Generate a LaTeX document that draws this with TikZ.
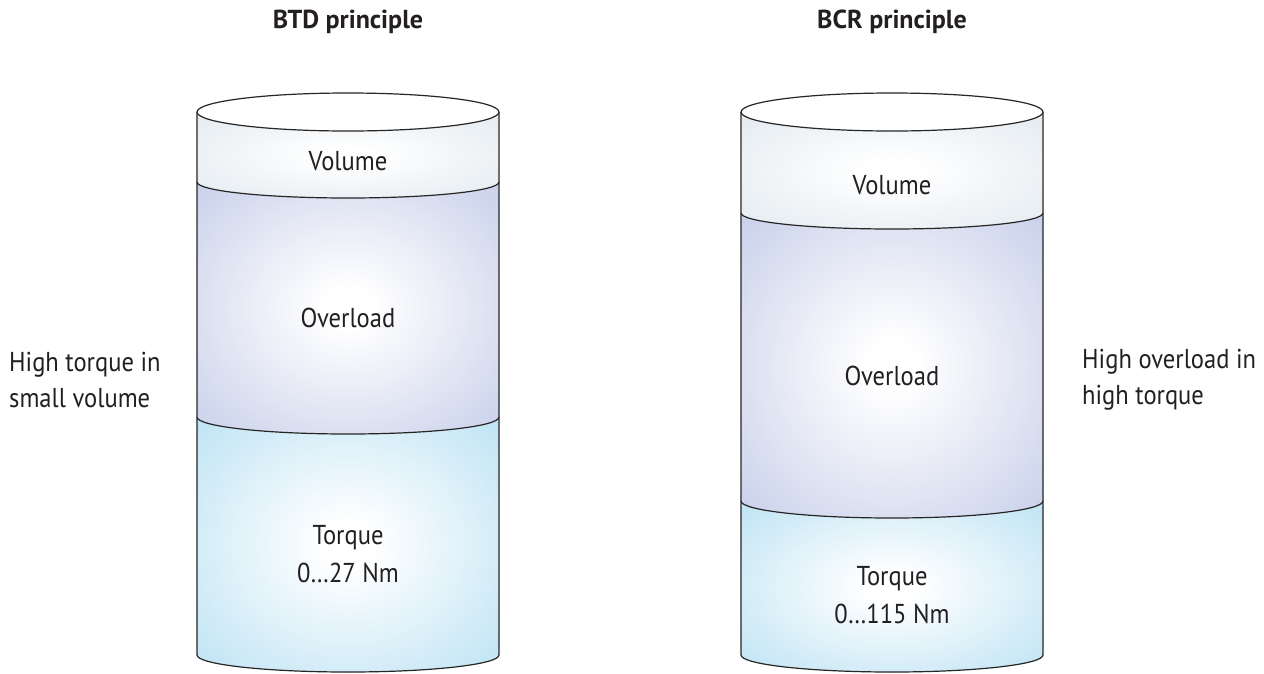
\documentclass[tikz,border=0pt]{standalone}
\usepackage{fontspec}
\setmainfont[FakeStretch=0.9]{PT Sans}
\newfontfamily\titlefont{PT Sans}
\definecolor{txt}{HTML}{231F20}
\definecolor{volc}{HTML}{D8E2EA}
\definecolor{ovlc}{HTML}{B6C0E3}
\definecolor{torc}{HTML}{A8DAF0}
\pgfdeclareradialshading{volsh}{\pgfpointorigin}{color(0bp)=(white);color(4bp)=(white);color(48bp)=(volc);color(72bp)=(volc)}
\pgfdeclareradialshading{ovlsh}{\pgfpointorigin}{color(0bp)=(white);color(4bp)=(white);color(46bp)=(ovlc);color(72bp)=(ovlc)}
\pgfdeclareradialshading{torsh}{\pgfpointorigin}{color(0bp)=(white);color(4bp)=(white);color(46bp)=(torc);color(72bp)=(torc)}
\newcommand\mycyl[4]{%
  \pgfmathsetmacro\rx{(#2-#1)/2}%
  \pgfmathsetmacro\cx{(#2+#1)/2}%
  \shade[shading=volsh] (#1,-112) -- (#1,-#3) arc[start angle=180,end angle=360,x radius=\rx pt,y radius=16pt] -- (#2,-112) -- cycle;
  \shade[shading=ovlsh] (#1,-#3) arc[start angle=180,end angle=360,x radius=\rx pt,y radius=16pt] -- (#2,-#4) arc[start angle=0,end angle=-180,x radius=\rx pt,y radius=17pt] -- cycle;
  \shade[shading=torsh] (#1,-#4) arc[start angle=180,end angle=360,x radius=\rx pt,y radius=17pt] -- (#2,-655) arc[start angle=0,end angle=-180,x radius=\rx pt,y radius=17pt] -- cycle;
  \draw[cline] (#1,-112) -- (#1,-655) arc[start angle=180,end angle=360,x radius=\rx pt,y radius=17pt] -- (#2,-112);
  \draw[cline] (#1,-#3) arc[start angle=180,end angle=360,x radius=\rx pt,y radius=16pt];
  \draw[cline] (#1,-#4) arc[start angle=180,end angle=360,x radius=\rx pt,y radius=17pt];
  \filldraw[cline,fill=white] (\cx,-112) ellipse[x radius=\rx pt,y radius=19pt];
}
\begin{document}
\begin{tikzpicture}[x=1pt,y=1pt,
  cline/.style={draw=black!85,line width=1.2pt},
  lbl/.style={text=txt,font=\fontsize{27.3}{38}\selectfont,inner sep=0pt,align=center},
  side/.style={text=txt,font=\fontsize{27.3}{36}\selectfont,inner sep=0pt,align=left,anchor=west},
  ttl/.style={text=txt,font=\titlefont\bfseries\fontsize{26}{30}\selectfont,inner sep=0pt}]
\useasboundingbox (0,0) rectangle (1264,-673);
\mycyl{197}{499}{182}{417}
\mycyl{741}{1043}{213}{501}
\node[ttl] (t1) at (348,-22) {BTD principle};
\node[ttl] (t2) at (892,-22) {BCR principle};
\node[lbl] (v1) at (348,-161) {Volume};
\node[lbl] (o1) at (348,-318) {Overload};
\node[lbl] (q1) at (348,-554) {Torque\\0…27 Nm};
\node[lbl] (v2) at (892,-185) {Volume};
\node[lbl] (o2) at (892,-376) {Overload};
\node[lbl] (q2) at (892,-595) {Torque\\0…115 Nm};
\node[side] (s1) at (9,-380) {High torque in\\small volume};
\node[side] (s2) at (1082,-380) {High overload in\\high torque};
\end{tikzpicture}
\end{document}
